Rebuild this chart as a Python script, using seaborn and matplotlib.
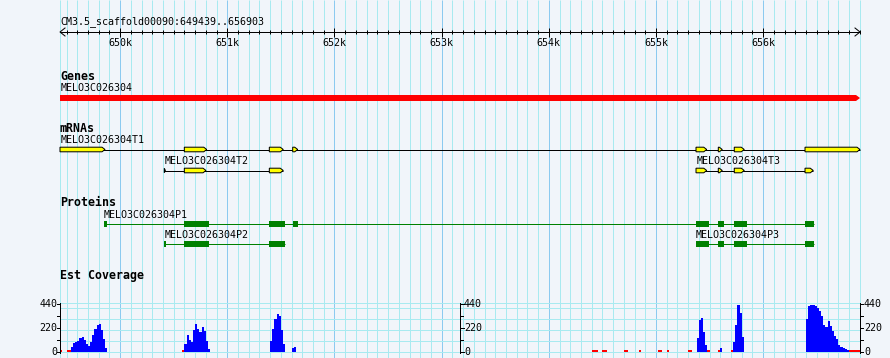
import numpy as np
import pandas as pd
import matplotlib
matplotlib.use("Agg")
import matplotlib.pyplot as plt
import seaborn as sns
from matplotlib.patches import Polygon, Rectangle

# ---------------- data ----------------
scaffold = "CM3.5_scaffold00090"
region_start, region_end = 649439, 656903
scale_ticks = [650000, 651000, 652000, 653000, 654000, 655000, 656000]
scale_labels = ["650k", "651k", "652k", "653k", "654k", "655k", "656k"]

gene_name = "MELO3C026304"
gene_span = [649439, 656903]

t1_name = "MELO3C026304T1"
t1_exons = [(649439, 649859), (650599, 650808), (651392, 651522), (651610, 651657),
            (655373, 655473), (655581, 655618), (655730, 655823), (656390, 656903)]
t2_name = "MELO3C026304T2"
t2_exons = [(650412, 650422), (650599, 650801), (651392, 651522)]
t3_name = "MELO3C026304T3"
t3_exons = [(655373, 655473), (655581, 655618), (655730, 655823), (656390, 656467)]

p1_name = "MELO3C026304P1"
p1_cds = [(649850, 649875), (650599, 650829), (651392, 651538), (651616, 651657),
          (655373, 655494), (655581, 655634), (655730, 655846), (656390, 656474)]
p2_name = "MELO3C026304P2"
p2_cds = [(650412, 650425), (650599, 650829), (651392, 651538)]
p3_name = "MELO3C026304P3"
p3_cds = [(655373, 655494), (655581, 655634), (655730, 655846), (656390, 656474)]

cov_bin = 20
cov_max = 440
cov_ticks = [0, 220, 440]
# blue coverage: (segment start, values per 20 bp bin)
cov_seg_starts = [649540, 650600, 651400, 651600, 655380, 655600, 655720, 656400]
cov_seg_values = [
    [50, 85, 90, 100, 130, 138, 110, 75, 55, 95, 160, 215, 250, 254, 200, 120, 40],
    [70, 160, 110, 90, 200, 255, 210, 180, 225, 190, 100, 30],
    [100, 210, 300, 350, 330, 200, 70],
    [40, 50],
    [130, 290, 310, 180, 60],
    [35],
    [90, 250, 430, 360, 140],
    [300, 420, 430, 430, 420, 405, 380, 330, 250, 230, 280, 240, 195, 150, 115,
     65, 48, 38, 30, 22],
]
# low coverage shown in red
low_pos = [649440, 649500, 649520, 650580, 654400, 654420, 654440, 654500, 654520,
           654700, 654720, 654840, 655020, 655040, 655100, 655300, 655320, 655480,
           655580, 655700, 656800, 656820, 656840, 656860, 656880]
low_val = [17] * len(low_pos)

# ---------------- layout helpers ----------------
W, H = 890, 358
bpp = (region_end - region_start) / 800.0      # bp per pixel
def px(n):
    return n * bpp

BG = "#F1F5FA"
GRID_MINOR = "#A8EAF0"
GRID_MAJOR = "#8CCAF0"
LW = 0.72  # one pixel at 100 dpi
MONO = "DejaVu Sans Mono"

fig = plt.figure(figsize=(W / 100, H / 100), dpi=100, facecolor=BG)
ax = fig.add_axes([0, 0, 1, 1])
ax.set_facecolor(BG)
ax.set_xlim(region_start - px(60), region_start + px(830))
ax.set_ylim(H, 0)
ax.axis("off")

# vertical grid
minor = [v for v in range(649500, region_end + 1, 100) if v % 1000]
major = [v for v in range(650000, region_end + 1, 1000)]
ax.vlines([region_start] + minor, 0, H, color=GRID_MINOR, lw=LW, zorder=0)
ax.vlines(major, 0, H, color=GRID_MAJOR, lw=LW, zorder=0)

# horizontal grid lines of the coverage panel
ax.hlines([303.3, 307.7, 318.7, 329.5, 340.5, 351.5], region_start, region_end,
          color=GRID_MINOR, lw=LW, zorder=0)

# ---------------- scale bar ----------------
ys = 32
ax.text(region_start + px(0.5), 21.5, f"{scaffold}:{region_start}..{region_end}",
        family=MONO, fontsize=7.2, va="center", ha="left")
ax.hlines(ys, region_start, region_end, color="black", lw=LW)
ax.plot([region_start + px(5), region_start, region_start + px(5)], [ys - 4, ys, ys + 4],
        color="black", lw=LW)
ax.plot([region_end - px(5), region_end, region_end - px(5)], [ys - 4, ys, ys + 4],
        color="black", lw=LW)
ax.vlines(minor, ys - 2.3, ys + 2.3, color="black", lw=LW)
ax.vlines(major, ys - 4, ys + 4.5, color="black", lw=LW)
for t, lab in zip(scale_ticks, scale_labels):
    ax.text(t, 43, lab, family=MONO, fontsize=7.2, ha="center", va="center")

# ---------------- track titles ----------------
for y, title in [(76, "Genes"), (128.5, "mRNAs"), (202.5, "Proteins"), (276, "Est Coverage")]:
    ax.text(region_start, y, title, family=MONO, fontsize=8.4, weight="bold",
            ha="left", va="center")

# ---------------- gene ----------------
gs, ge = gene_span
yc, hh = 98, 3
ax.add_patch(Polygon([(gs, yc - hh), (ge - px(4), yc - hh), (ge, yc), (ge - px(4), yc + hh),
                      (gs, yc + hh)], closed=True, fc="#FF0000", ec="none", zorder=3))
ax.text(gs + px(0.5), 88, gene_name, family=MONO, fontsize=7.2, ha="left", va="center")

# ---------------- mRNAs ----------------
def draw_mrna(exons, yc, name, label_y):
    s = exons[0][0]
    e = exons[-1][1]
    ax.hlines(yc, s, e, color="black", lw=LW, zorder=2)
    h = 2.3
    for a, b in exons:
        tip = min(px(3), b - a)
        ax.add_patch(Polygon([(a, yc - h), (b - tip, yc - h), (b, yc), (b - tip, yc + h),
                              (a, yc + h)], closed=True, fc="#FFFF00", ec="black",
                             lw=LW, zorder=3))
    ax.text(s + px(0.5), label_y, name, family=MONO, fontsize=7.2, ha="left", va="center")

draw_mrna(t1_exons, 149.5, t1_name, 140)
draw_mrna(t2_exons, 170.5, t2_name, 161)
draw_mrna(t3_exons, 170.5, t3_name, 161)

# ---------------- proteins ----------------
def draw_protein(cds, yc, name, label_y):
    s = cds[0][0]
    e = cds[-1][1]
    ax.hlines(yc, s, e, color="#008000", lw=LW, zorder=2)
    for a, b in cds:
        ax.add_patch(Rectangle((a, yc - 3), b - a, 6, fc="#008000", ec="none", zorder=3))
    ax.text(s, label_y, name, family=MONO, fontsize=7.2, ha="left", va="center")

draw_protein(p1_cds, 224, p1_name, 214.5)
draw_protein(p2_cds, 244, p2_name, 235)
draw_protein(p3_cds, 244, p3_name, 235)

# ---------------- coverage (seaborn histplot with weights) ----------------
y0_px, y1_px = 352, 304
cax = fig.add_axes([0, (H - y0_px) / H, 1, (y0_px - y1_px) / H])
cax.patch.set_alpha(0)

cov_pos, cov_val = [], []
for s0, vals in zip(cov_seg_starts, cov_seg_values):
    for i, v in enumerate(vals):
        cov_pos.append(s0 + i * cov_bin + cov_bin / 2)
        cov_val.append(v)
blue_df = pd.DataFrame({"pos": cov_pos, "cov": cov_val})
red_df = pd.DataFrame({"pos": np.array(low_pos) + cov_bin / 2, "cov": low_val})
brange = (649420, 656900)
sns.histplot(data=blue_df, x="pos", weights="cov", binwidth=cov_bin, binrange=brange,
             ax=cax, color="#0000FF", alpha=1, linewidth=0, element="bars")
sns.histplot(data=red_df, x="pos", weights="cov", binwidth=cov_bin, binrange=brange,
             ax=cax, color="#FF0000", alpha=1, linewidth=0, element="bars")
cax.set_ylim(0, cov_max)
cax.set_xlim(ax.get_xlim())
cax.axis("off")

# coverage axes (left, middle, right)
mid = (region_start + region_end) / 2
for xa, side in [(region_start, -1), (mid, 1), (region_end, 1)]:
    cax.plot([xa, xa], [-10, cov_max + 8], color="black", lw=LW, clip_on=False)
    for v in [0, 110, 220, 330, 440]:
        L = 3.5 if v in cov_ticks else 3
        cax.plot([xa, xa + side * px(L)], [v, v], color="black", lw=LW, clip_on=False)
    for v in cov_ticks:
        if side < 0:
            cax.text(xa - px(2.5), v, str(v), family=MONO, fontsize=7.2,
                     ha="right", va="center")
        else:
            cax.text(xa + px(4), v, str(v), family=MONO, fontsize=7.2,
                     ha="left", va="center")

fig.savefig("out.png", dpi=100, facecolor=BG)
